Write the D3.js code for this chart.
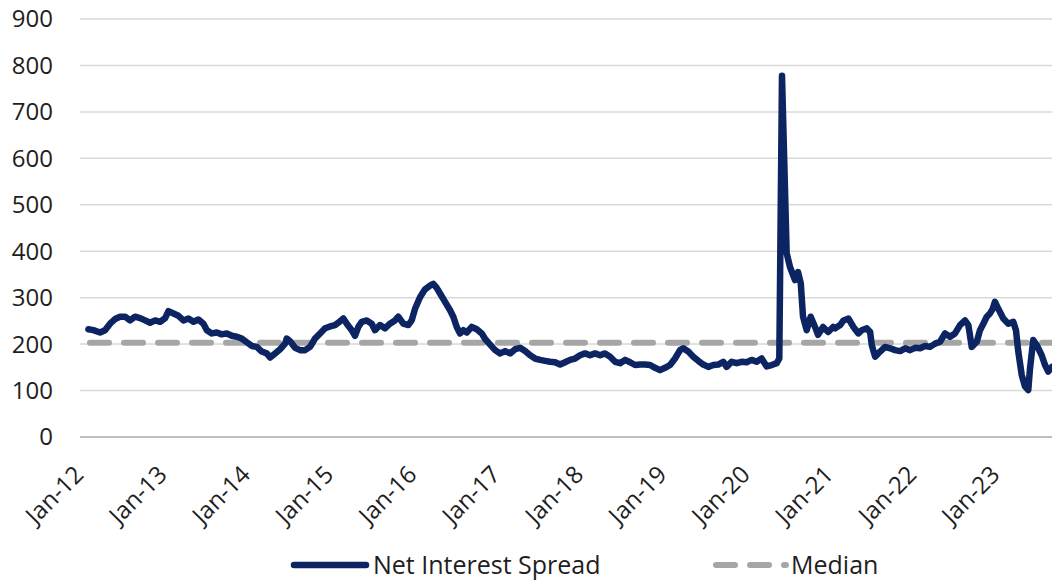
<!DOCTYPE html>
<html>
<head>
<meta charset="utf-8">
<script src="https://cdn.jsdelivr.net/npm/d3@7"></script>
<style>
  html, body { margin: 0; padding: 0; background: #ffffff; }
  svg { display: block; }
  text { font-family: "Open Sans", "Noto Sans", sans-serif; fill: #1e1e1e; }
</style>
</head>
<body>
<svg id="chart" width="1052" height="580"></svg>
<script>
// Observation times as decimal years (weekly series, sampled)
const years = [
  2012.004, 2012.064, 2012.144, 2012.204, 2012.264, 2012.324, 2012.384, 2012.444, 2012.504, 2012.564,
  2012.624, 2012.684, 2012.744, 2012.804, 2012.864, 2012.924, 2012.964, 2013.024, 2013.084, 2013.144,
  2013.204, 2013.264, 2013.324, 2013.384, 2013.425, 2013.485, 2013.545, 2013.605, 2013.665, 2013.725,
  2013.785, 2013.845, 2013.905, 2013.965, 2014.025, 2014.085, 2014.145, 2014.185, 2014.245, 2014.305,
  2014.365, 2014.385, 2014.425, 2014.485, 2014.545, 2014.605, 2014.665, 2014.725, 2014.785, 2014.845,
  2014.905, 2014.965, 2015.025, 2015.065, 2015.106, 2015.166, 2015.205, 2015.245, 2015.286, 2015.346,
  2015.406, 2015.445, 2015.505, 2015.565, 2015.625, 2015.685, 2015.725, 2015.785, 2015.845, 2015.886,
  2015.926, 2015.986, 2016.046, 2016.106, 2016.145, 2016.186, 2016.226, 2016.286, 2016.346, 2016.385,
  2016.426, 2016.466, 2016.505, 2016.546, 2016.606, 2016.666, 2016.726, 2016.766, 2016.826, 2016.886,
  2016.946, 2017.006, 2017.066, 2017.126, 2017.186, 2017.246, 2017.306, 2017.366, 2017.426, 2017.486,
  2017.546, 2017.606, 2017.666, 2017.726, 2017.786, 2017.846, 2017.906, 2017.966, 2018.026, 2018.086,
  2018.146, 2018.206, 2018.267, 2018.327, 2018.387, 2018.447, 2018.507, 2018.567, 2018.627, 2018.687,
  2018.747, 2018.807, 2018.867, 2018.927, 2018.987, 2019.047, 2019.107, 2019.146, 2019.206, 2019.266,
  2019.326, 2019.386, 2019.447, 2019.507, 2019.567, 2019.627, 2019.667, 2019.727, 2019.787, 2019.847,
  2019.907, 2019.967, 2020.027, 2020.087, 2020.148, 2020.208, 2020.268, 2020.299, 2020.331, 2020.387,
  2020.427, 2020.487, 2020.523, 2020.556, 2020.583, 2020.627, 2020.675, 2020.727, 2020.763, 2020.823,
  2020.884, 2020.944, 2020.968, 2021.028, 2021.068, 2021.128, 2021.187, 2021.247, 2021.288, 2021.348,
  2021.388, 2021.408, 2021.448, 2021.508, 2021.568, 2021.628, 2021.688, 2021.748, 2021.808, 2021.868,
  2021.928, 2021.988, 2022.048, 2022.108, 2022.168, 2022.228, 2022.288, 2022.348, 2022.408, 2022.468,
  2022.528, 2022.568, 2022.609, 2022.669, 2022.708, 2022.748, 2022.789, 2022.828, 2022.861, 2022.888,
  2022.928, 2022.988, 2023.048, 2023.108, 2023.140, 2023.168, 2023.209, 2023.248, 2023.288, 2023.309,
  2023.348, 2023.389, 2023.449, 2023.489, 2023.528, 2023.573
];

// Net interest spread (bps)
const spread = [
  232, 230, 225, 230, 244, 254, 259, 259, 251, 259,
  256, 251, 246, 251, 248, 256, 271, 266, 261, 251,
  255, 248, 253, 244, 230, 223, 225, 221, 223, 218,
  216, 212, 204, 196, 194, 184, 180, 171, 180, 189,
  201, 212, 206, 192, 187, 187, 194, 212, 223, 234,
  238, 241, 249, 255, 244, 230, 218, 237, 248, 251,
  244, 230, 241, 234, 244, 251, 259, 244, 241, 251,
  276, 301, 318, 326, 330, 321, 309, 291, 273, 259,
  237, 223, 230, 225, 237, 232, 223, 211, 199, 187,
  180, 185, 180, 189, 192, 185, 176, 169, 166, 164,
  162, 161, 156, 161, 166, 169, 176, 180, 176, 180,
  176, 180, 173, 162, 159, 166, 161, 155, 156, 156,
  155, 149, 144, 149, 155, 169, 187, 191, 184, 173,
  164, 156, 151, 155, 156, 162, 151, 162, 159, 162,
  161, 166, 162, 169, 152, 155, 159, 169, 778, 396,
  366, 338, 355, 331, 259, 230, 259, 237, 220, 237,
  226, 237, 234, 241, 251, 255, 237, 223, 230, 234,
  226, 198, 173, 184, 194, 191, 187, 185, 191, 187,
  192, 191, 196, 194, 201, 205, 223, 216, 223, 241,
  251, 241, 194, 205, 230, 244, 259, 266, 276, 291,
  276, 255, 244, 248, 230, 184, 134, 109, 101, 148,
  209, 198, 176, 155, 141, 151, 170
];

const medianValue = 203;

const yTicks = [0, 100, 200, 300, 400, 500, 600, 700, 800, 900];
const xTickYears = [2012, 2013, 2014, 2015, 2016, 2017, 2018, 2019, 2020, 2021, 2022, 2023];
const xTickLabels = ["Jan-12", "Jan-13", "Jan-14", "Jan-15", "Jan-16", "Jan-17",
                     "Jan-18", "Jan-19", "Jan-20", "Jan-21", "Jan-22", "Jan-23"];

const seriesName = "Net Interest Spread";
const medianName = "Median";

// decimal year -> Date
function toDate(y) {
  const yr = Math.floor(y);
  const start = new Date(yr, 0, 1), end = new Date(yr + 1, 0, 1);
  return new Date(+start + (y - yr) * (end - start));
}

const data = years.map((y, i) => ({ date: toDate(y), value: spread[i] }));

const W = 1052, H = 580;
const plotLeft = 80, plotRight = W;
const navy = "#0c2461";
const grey = "#a6a6a6";
const svg = d3.select("#chart");

const x = d3.scaleTime()
  .domain([new Date(2012, 0, 1), new Date(2023, 0, 1)])
  .range([88, 1004.3]);

const y = d3.scaleLinear()
  .domain([0, 900])
  .range([437, 19]);

// horizontal gridlines
svg.append("g")
  .selectAll("line")
  .data(yTicks.filter(d => d > 0))
  .join("line")
  .attr("x1", plotLeft).attr("x2", plotRight)
  .attr("y1", d => y(d)).attr("y2", d => y(d))
  .attr("stroke", "#d9d9d9")
  .attr("stroke-width", 1.5);

// category axis baseline
svg.append("line")
  .attr("x1", plotLeft).attr("x2", plotRight)
  .attr("y1", y(0)).attr("y2", y(0))
  .attr("stroke", "#bfbfbf")
  .attr("stroke-width", 2);

// value axis labels
svg.append("g")
  .selectAll("text")
  .data(yTicks)
  .join("text")
  .attr("x", 53)
  .attr("y", d => y(d))
  .attr("dy", "0.35em")
  .attr("text-anchor", "end")
  .style("font-size", "24px")
  .text(d => d);

// date labels, rotated
svg.append("g")
  .selectAll("text")
  .data(xTickYears)
  .join("text")
  .attr("transform", (d) => `translate(${x(new Date(d, 0, 1)) - 3},476) rotate(-45)`)
  .attr("text-anchor", "end")
  .style("font-size", "24px")
  .text((d, i) => xTickLabels[i]);

// median reference line
svg.append("line")
  .attr("x1", 90).attr("x2", plotRight + 10)
  .attr("y1", y(medianValue)).attr("y2", y(medianValue))
  .attr("stroke", grey)
  .attr("stroke-width", 6)
  .attr("stroke-linecap", "round")
  .attr("stroke-dasharray", "19 15");

// spread series
const line = d3.line()
  .x(d => x(d.date))
  .y(d => y(d.value));

svg.append("path")
  .datum(data)
  .attr("d", line)
  .attr("fill", "none")
  .attr("stroke", navy)
  .attr("stroke-width", 6.5)
  .attr("stroke-linejoin", "round")
  .attr("stroke-linecap", "round");

// legend
const legendY = 565;
svg.append("line")
  .attr("x1", 294).attr("x2", 366)
  .attr("y1", legendY).attr("y2", legendY)
  .attr("stroke", navy)
  .attr("stroke-width", 6.5)
  .attr("stroke-linecap", "round");
svg.append("text")
  .attr("x", 373).attr("y", legendY)
  .attr("dy", "0.35em")
  .style("font-size", "25px")
  .text(seriesName);

svg.append("line")
  .attr("x1", 716).attr("x2", 786)
  .attr("y1", legendY).attr("y2", legendY)
  .attr("stroke", grey)
  .attr("stroke-width", 6)
  .attr("stroke-linecap", "round")
  .attr("stroke-dasharray", "19 15");
svg.append("text")
  .attr("x", 791).attr("y", legendY)
  .attr("dy", "0.35em")
  .style("font-size", "25px")
  .text(medianName);
</script>
</body>
</html>
